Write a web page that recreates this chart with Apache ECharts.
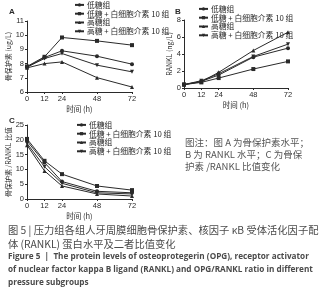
<!DOCTYPE html>
<html>
<head>
<meta charset="utf-8">
<script src="https://cdn.jsdelivr.net/npm/echarts@6/dist/echarts.min.js"></script>
<style>
html, body { margin: 0; padding: 0; background: #fff; }
#chart { width: 323px; height: 300px; }
</style>
</head>
<body>
<div id="chart"></div>
<script>
// 时间点 (h)
const times = [0, 12, 24, 48, 72];
const timeTicks = [0, 12, 24, 48, 72];
const groups = ['低糖组', '低糖 + 白细胞介素 10 组', '高糖组', '高糖 + 白细胞介素 10 组'];

// A 骨保护素 (ug/L)
const opgLow = [7.75, 8.43, 8.9, 8.52, 7.96];
const opgLowIL10 = [7.8, 8.48, 9.84, 9.6, 9.3];
const opgHigh = [7.7, 8.0, 8.12, 7.01, 6.35];
const opgHighIL10 = [7.75, 8.36, 8.71, 7.89, 7.42];

// B RANKL (ng/L)
const rankLow = [0.38, 0.78, 1.52, 3.63, 4.69];
const rankLowIL10 = [0.4, 0.66, 1.17, 2.23, 3.13];
const rankHigh = [0.42, 0.74, 1.84, 4.41, 6.56];
const rankHighIL10 = [0.4, 0.86, 1.68, 3.71, 5.16];

// C 骨保护素/RANKL 比值
const ratioLow = [19.6, 12.3, 5.9, 2.6, 2.1];
const ratioLowIL10 = [20.3, 12.9, 8.4, 4.4, 3.0];
const ratioHigh = [18.2, 9.5, 4.4, 1.7, 1.0];
const ratioHighIL10 = [18.8, 10.9, 5.3, 2.1, 1.7];

const yTicksA = [6, 7, 8, 9, 10, 11];
const yTicksB = [0, 2, 4, 6, 8];
const yTicksC = [0, 5, 10, 15, 20, 25];

const ink = '#2a2a2a';
const cjk = '"Noto Sans CJK SC", "Noto Sans", sans-serif';
const symbols = ['circle', 'rect', 'triangle', 'path://M0,0 L10,0 L5,9 Z'];

const myChart = echarts.init(document.getElementById('chart'));

function xAxisFor(gridIndex) {
    return {
        gridIndex: gridIndex,
        type: 'value',
        min: 0,
        max: 72,
        name: '时间 (h)',
        nameLocation: 'middle',
        nameGap: 13,
        nameTextStyle: { fontSize: 7.5, color: ink, fontFamily: cjk },
        axisLine: { lineStyle: { color: ink, width: 1 } },
        axisTick: { customValues: timeTicks, length: 2, lineStyle: { color: ink } },
        axisLabel: { customValues: timeTicks, fontSize: 7.5, color: ink, margin: 3, fontFamily: 'Liberation Sans' },
        splitLine: { show: false },
    };
}

function yAxisFor(gridIndex, ticks, name, gap) {
    return {
        gridIndex: gridIndex,
        type: 'value',
        min: ticks[0],
        max: ticks[ticks.length - 1],
        interval: ticks[1] - ticks[0],
        name: name,
        nameLocation: 'middle',
        nameRotate: 90,
        nameGap: gap,
        nameTextStyle: { fontSize: 7, color: ink, fontFamily: cjk },
        axisLine: { show: true, lineStyle: { color: ink, width: 1 } },
        axisTick: { show: true, length: 2, lineStyle: { color: ink } },
        axisLabel: { fontSize: 7.5, color: ink, margin: 3, fontFamily: 'Liberation Sans' },
        splitLine: { show: false },
    };
}

function seriesFor(gridIndex, lists) {
    return lists.map(function (vals, i) {
        return {
            name: groups[i],
            type: 'line',
            xAxisIndex: gridIndex,
            yAxisIndex: gridIndex,
            data: times.map(function (t, k) { return [t, vals[k]]; }),
            symbol: symbols[i],
            symbolSize: 4,
            lineStyle: { color: ink, width: 1 },
            itemStyle: { color: ink },
            animation: false,
        };
    });
}

function legendFor(left, top) {
    return {
        data: groups,
        orient: 'vertical',
        left: left,
        top: top,
        itemWidth: 9,
        itemHeight: 4,
        itemGap: 1,
        padding: 0,
        textStyle: { fontSize: 7.8, color: ink, fontFamily: cjk, padding: [0, 0, 0, -2] },
        selectedMode: false,
    };
}

const caption = [
    { text: '图 5 | 压力组各组人牙周膜细胞骨保护素、核因子 κB 受体活化因子配', y: 225, size: 10.3, cn: true },
    { text: '体 (RANKL) 蛋白水平及二者比值变化', y: 239, size: 10.3, cn: true },
    { text: 'Figure 5  |  The protein levels of osteoprotegerin (OPG), receptor activator', y: 253, size: 8.2, cn: false },
    { text: 'of nuclear factor kappa B ligand (RANKL) and OPG/RANKL ratio in different', y: 266, size: 8.2, cn: false },
    { text: 'pressure subgroups', y: 279, size: 8.2, cn: false },
];

const note = [
    { text: '图注：图 A 为骨保护素水平；', y: 138 },
    { text: 'B 为 RANKL 水平；C 为骨保', y: 150 },
    { text: '护素 /RANKL 比值变化', y: 162 },
];

const graphics = [
    { type: 'text', left: 9, top: 8, style: { text: 'A', fontSize: 8, fontWeight: 'bold', fill: ink, fontFamily: 'Liberation Sans' } },
    { type: 'text', left: 175, top: 8, style: { text: 'B', fontSize: 8, fontWeight: 'bold', fill: ink, fontFamily: 'Liberation Sans' } },
    { type: 'text', left: 9, top: 117, style: { text: 'C', fontSize: 8, fontWeight: 'bold', fill: ink, fontFamily: 'Liberation Sans' } },
].concat(note.map(function (n) {
    return { type: 'text', left: 185, top: n.y, style: { text: n.text, fontSize: 9.5, fill: '#555', fontFamily: cjk } };
})).concat(caption.map(function (c) {
    return {
        type: 'text', left: 8, top: c.y,
        style: {
            text: c.text, fontSize: c.size, fill: '#4a4a4a',
            fontWeight: c.cn ? 'normal' : 'bold',
            fontFamily: c.cn ? cjk : '"Open Sans", sans-serif',
        },
    };
}));

const option = {
    backgroundColor: '#fff',
    animation: false,
    grid: [
        { left: 27, top: 21, width: 105, height: 71 },
        { left: 184, top: 20, width: 104, height: 68 },
        { left: 27, top: 125, width: 105, height: 74 },
    ],
    xAxis: [xAxisFor(0), xAxisFor(1), xAxisFor(2)],
    yAxis: [
        yAxisFor(0, yTicksA, '骨保护素 (ug/L)', 12),
        yAxisFor(1, yTicksB, 'RANKL (ng/L)', 10),
        yAxisFor(2, yTicksC, '骨保护素 /RANKL 比值', 14),
    ],
    legend: [legendFor(74, 1), legendFor(198, 5), legendFor(76, 121)],
    series: []
        .concat(seriesFor(0, [opgLow, opgLowIL10, opgHigh, opgHighIL10]))
        .concat(seriesFor(1, [rankLow, rankLowIL10, rankHigh, rankHighIL10]))
        .concat(seriesFor(2, [ratioLow, ratioLowIL10, ratioHigh, ratioHighIL10])),
    graphic: graphics,
};

myChart.setOption(option);
</script>
</body>
</html>
